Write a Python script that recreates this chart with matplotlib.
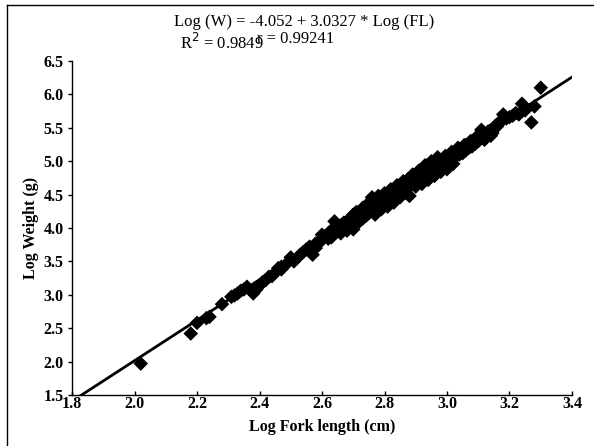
import numpy as np
import matplotlib
matplotlib.use('Agg')
import matplotlib.pyplot as plt
from matplotlib.lines import Line2D

## Regression coefficients shown on the chart
intercept = -4.052
slope = 3.0327
r_squared = 0.9849
r_value = 0.99241

## Log fork length (cm) / log weight (g) pairs
log_fl = [2.02, 2.18, 2.20, 2.23, 2.24, 2.28, 2.31, 2.32, 2.33, 2.34, 2.35, 2.36,
          2.38, 2.39, 2.40, 2.41, 2.42, 2.43, 2.45, 2.46, 2.47, 2.49, 2.50, 2.51,
          2.53, 2.55, 2.56, 2.57, 2.58, 2.59, 2.60, 2.61, 2.62, 2.62, 2.63, 2.64,
          2.64, 2.65, 2.66, 2.66, 2.67, 2.67, 2.68, 2.68, 2.69, 2.69, 2.70, 2.70,
          2.70, 2.71, 2.71, 2.72, 2.72, 2.73, 2.73, 2.73, 2.74, 2.74, 2.75, 2.75,
          2.75, 2.76, 2.76, 2.76, 2.77, 2.77, 2.77, 2.78, 2.78, 2.78, 2.79, 2.79,
          2.79, 2.80, 2.80, 2.80, 2.81, 2.81, 2.81, 2.82, 2.82, 2.82, 2.83, 2.83,
          2.83, 2.84, 2.84, 2.84, 2.85, 2.85, 2.85, 2.86, 2.86, 2.86, 2.87, 2.87,
          2.87, 2.88, 2.88, 2.88, 2.89, 2.89, 2.89, 2.90, 2.90, 2.90, 2.91, 2.91,
          2.91, 2.92, 2.92, 2.92, 2.93, 2.93, 2.93, 2.94, 2.94, 2.94, 2.95, 2.95,
          2.95, 2.96, 2.96, 2.96, 2.97, 2.97, 2.97, 2.98, 2.98, 2.98, 2.99, 2.99,
          3.00, 3.00, 3.00, 3.01, 3.01, 3.02, 3.02, 3.02, 3.03, 3.03, 3.04, 3.04,
          3.05, 3.05, 3.06, 3.06, 3.07, 3.07, 3.08, 3.08, 3.09, 3.09, 3.10, 3.10,
          3.11, 3.11, 3.12, 3.12, 3.13, 3.14, 3.14, 3.15, 3.16, 3.17, 3.18, 3.19,
          3.21, 3.23, 3.24, 3.25, 3.27, 3.28, 3.30,
          2.625, 2.635, 2.645, 2.655, 2.665, 2.675, 2.685, 2.695, 2.705, 2.715,
          2.725, 2.735, 2.745, 2.755, 2.765, 2.775, 2.785, 2.795, 2.805, 2.815,
          2.825, 2.835, 2.845, 2.855, 2.865, 2.875, 2.885, 2.895, 2.905, 2.915,
          2.925, 2.935, 2.945, 2.955, 2.965, 2.975, 2.985, 2.995, 3.005, 3.015,
          3.025, 3.035, 3.045, 3.055, 3.065, 3.075, 3.085, 3.095, 3.105, 3.115,
          3.125, 3.135, 3.145, 3.155, 3.165, 3.175, 2.52, 2.54, 2.58, 2.60,
          2.44, 2.47, 3.20, 3.22]
log_w = [1.97, 2.42, 2.58, 2.65, 2.67, 2.86, 2.97, 2.99, 3.02, 3.06, 3.08, 3.12,
         3.02, 3.08, 3.14, 3.19, 3.22, 3.27, 3.33, 3.40, 3.42, 3.48, 3.56, 3.50,
         3.60, 3.68, 3.72, 3.60, 3.77, 3.78, 3.82, 3.88, 3.84, 3.92, 3.86, 3.96,
         4.10, 3.98, 4.04, 3.92, 4.08, 4.00, 4.10, 3.96, 4.14, 4.05, 4.12, 4.20,
         3.98, 4.16, 4.24, 4.20, 4.10, 4.22, 4.30, 4.14, 4.27, 4.18, 4.30, 4.22,
         4.38, 4.33, 4.25, 4.46, 4.36, 4.28, 4.20, 4.40, 4.32, 4.48, 4.42, 4.36,
         4.28, 4.45, 4.38, 4.52, 4.48, 4.40, 4.32, 4.52, 4.44, 4.58, 4.55, 4.48,
         4.38, 4.58, 4.50, 4.64, 4.62, 4.54, 4.46, 4.64, 4.58, 4.70, 4.68, 4.60,
         4.52, 4.70, 4.62, 4.48, 4.74, 4.66, 4.80, 4.76, 4.70, 4.62, 4.80, 4.72,
         4.86, 4.82, 4.76, 4.66, 4.86, 4.78, 4.94, 4.88, 4.82, 4.72, 4.92, 4.84,
         5.00, 4.94, 4.88, 4.78, 4.98, 4.90, 5.06, 5.00, 4.94, 4.84, 5.04, 4.96,
         5.06, 5.00, 4.88, 5.10, 5.02, 5.12, 5.06, 4.96, 5.14, 5.08, 5.18, 5.10,
         5.20, 5.12, 5.24, 5.16, 5.26, 5.20, 5.30, 5.22, 5.34, 5.26, 5.36, 5.30,
         5.47, 5.38, 5.40, 5.32, 5.44, 5.46, 5.38, 5.50, 5.52, 5.58, 5.70, 5.64,
         5.68, 5.70, 5.86, 5.76, 5.58, 5.82, 6.10,
         3.90, 3.99, 3.94, 4.02, 3.97, 4.06, 4.03, 4.10, 4.08, 4.18,
         4.15, 4.25, 4.22, 4.32, 4.29, 4.40, 4.36, 4.46, 4.42, 4.54,
         4.49, 4.60, 4.55, 4.66, 4.62, 4.73, 4.66, 4.78, 4.74, 4.84,
         4.79, 4.90, 4.85, 4.96, 4.91, 5.02, 4.97, 5.08, 5.04, 5.14,
         5.09, 5.20, 5.15, 5.24, 5.21, 5.30, 5.27, 5.36, 5.33, 5.43,
         5.37, 5.45, 5.42, 5.53, 5.56, 5.62, 3.55, 3.64, 3.70, 3.90,
         3.28, 3.38, 5.66, 5.72]

plt.rcParams['font.family'] = ['Liberation Serif', 'DejaVu Serif']

fig = plt.figure(figsize=(5.94, 4.46), dpi=100)
ax = fig.add_axes([72/594, 51/446, 500/594, 334/446])

ax.scatter(log_fl, log_w, marker='D', s=55, c='black', edgecolors='none', zorder=3)

## Fitted line, clipped to the axes box
xs = np.array([1.8, 3.4])
ax.plot(xs, intercept + slope * xs, color='black', lw=2, zorder=4)

ax.set_xlim(1.8, 3.4)
ax.set_ylim(1.5, 6.5)
ax.set_xticks(np.arange(1.8, 3.41, 0.2))
ax.set_yticks(np.arange(1.5, 6.51, 0.5))
ax.set_xticklabels([f'{v:.1f}' for v in np.arange(1.8, 3.41, 0.2)], fontweight='bold', fontsize=11.5)
ax.set_yticklabels([f'{v:.1f}' for v in np.arange(1.5, 6.51, 0.5)], fontweight='bold', fontsize=11.5)
ax.tick_params(axis='x', direction='in', length=3, width=1, pad=1)
ax.tick_params(axis='y', direction='out', length=3, width=1, pad=3)
ax.spines['top'].set_visible(False)
ax.spines['right'].set_visible(False)
ax.spines['left'].set_linewidth(1)
ax.spines['bottom'].set_linewidth(1)

ax.set_xlabel('Log Fork length (cm)', fontweight='bold', fontsize=11.5, labelpad=5)
ax.set_ylabel('Log Weight (g)', fontweight='bold', fontsize=11.5, labelpad=3)

## Equation and fit statistics above the plot
fig.text(304/594, 1 - 22/446, f'Log (W) = {intercept} + {slope} * Log (FL)',
         ha='center', va='center', fontsize=12)
fig.text(180/594, 1 - 43/446, f'R$^2$ = {r_squared}', ha='left', va='center', fontsize=12)
fig.text(257/594, 1 - 39/446, f'r = {r_value}', ha='left', va='center', fontsize=12)

## Frame round the figure
fig.add_artist(Line2D([7/594, 7/594], [0, 1 - 5/446], transform=fig.transFigure, color='black', lw=1))
fig.add_artist(Line2D([7/594, 1], [1 - 5/446, 1 - 5/446], transform=fig.transFigure, color='black', lw=1))

fig.savefig('out.png', dpi=100)
